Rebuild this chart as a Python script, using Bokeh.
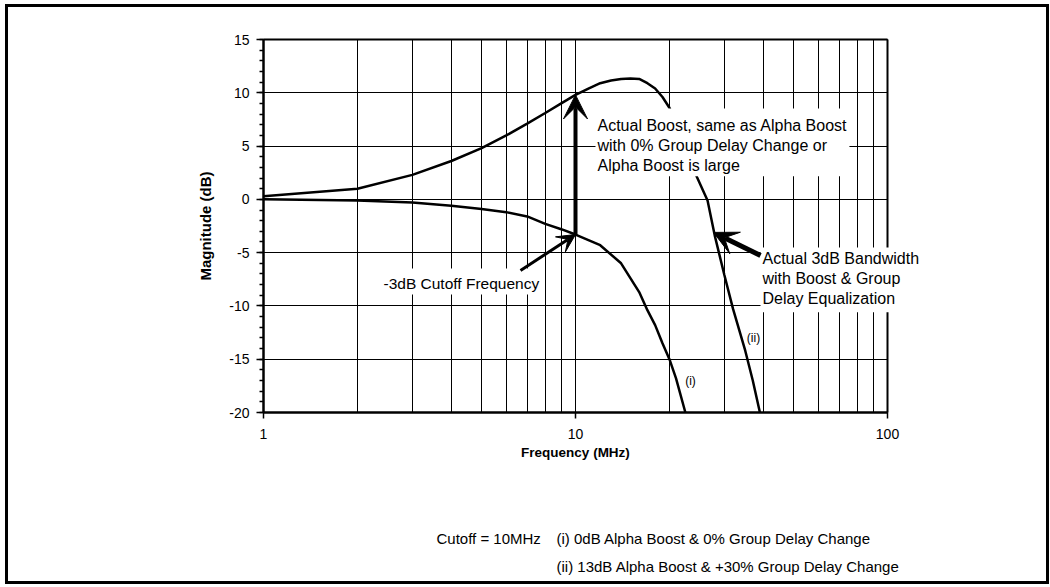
from bokeh.plotting import figure
from bokeh.models import Arrow, VeeHead, Label, FixedTicker, BasicTickFormatter, Grid
from bokeh.embed import file_html
from bokeh.resources import INLINE

# ---- data ----
# curve (i): 0dB Alpha Boost & 0% Group Delay Change
freq_i = [1, 2, 3, 4, 5, 6, 7, 8, 9, 10, 12, 14, 16, 17, 18, 19, 20, 21, 22.5]
mag_i = [0.0, -0.1, -0.3, -0.6, -0.9, -1.2, -1.6, -2.3, -2.8, -3.3, -4.3, -6.0,
         -8.7, -10.4, -11.8, -13.5, -15.0, -16.8, -20.0]
# curve (ii): 13dB Alpha Boost & +30% Group Delay Change
freq_ii = [1, 2, 3, 4, 5, 6, 7, 8, 9, 10, 11, 12, 13, 14, 15, 16, 17, 18, 19, 20,
           22, 24.5, 26.5, 28, 30, 32, 35, 37, 39]
mag_ii = [0.3, 1.0, 2.3, 3.6, 4.8, 6.0, 7.1, 8.1, 9.0, 9.8, 10.4, 10.9, 11.15, 11.3,
          11.35, 11.3, 10.9, 10.4, 9.6, 8.6, 5.8, 2.1, -0.1, -3.5, -7.1, -10.3,
          -14.2, -17.0, -20.0]

x_ticks = [1, 10, 100]
x_tick_labels = ["1", "10", "100"]
x_minor = [2, 3, 4, 5, 6, 7, 8, 9, 20, 30, 40, 50, 60, 70, 80, 90]
y_ticks = [-20, -15, -10, -5, 0, 5, 10, 15]
y_tick_labels = ["-20", "-15", "-10", "-5", "0", "5", "10", "15"]
y_minor = list(range(-20, 16))
x_bounds = (1, 100)
y_bounds = (-20, 15)

cutoff_freq = 10
cutoff_mag = mag_i[freq_i.index(cutoff_freq)]
boost_mag = mag_ii[freq_ii.index(cutoff_freq)]
bw_freq, bw_mag = 27.7, -3.1

title_x = "Frequency (MHz)"
title_y = "Magnitude (dB)"
note_boost = "Actual Boost, same as Alpha Boost\nwith 0% Group Delay Change or\nAlpha Boost is large"
note_cutoff = "-3dB Cutoff Frequency"
note_bw = "Actual 3dB Bandwidth\nwith Boost & Group\nDelay Equalization"
legend_head = "Cutoff = 10MHz"
legend_i = "(i) 0dB Alpha Boost & 0% Group Delay Change"
legend_ii = "(ii) 13dB Alpha Boost & +30% Group Delay Change"

FONT = "Liberation Sans"

# ---- layout (page pixels of the reference) ----
OX, OY = 8, 7                 # figure offset on the page
FIG_W, FIG_H = 1038, 574
X1_PX, X100_PX = 263, 887     # f = 1 and f = 100
Y15_PX, YM20_PX = 39, 412     # +15 dB and -20 dB
FRAME_LEFT_PX, FRAME_RIGHT_PX = 150, 1000
FRAME_TOP_PX, FRAME_BOTTOM_PX = 20, 578
DEC_PX = (X100_PX - X1_PX) / 2
DB_PX = (YM20_PX - Y15_PX) / 35.0


def fx(px):
    return 10 ** ((px - X1_PX) / DEC_PX)


def fy(py):
    return 15 - (py - Y15_PX) / DB_PX


p = figure(width=FIG_W, height=FIG_H, x_axis_type="log",
           x_range=(fx(FRAME_LEFT_PX), fx(FRAME_RIGHT_PX)),
           y_range=(fy(FRAME_BOTTOM_PX), fy(FRAME_TOP_PX)),
           output_backend="svg", toolbar_location=None,
           min_border_left=FRAME_LEFT_PX - OX,
           min_border_right=OX + FIG_W - FRAME_RIGHT_PX,
           min_border_top=FRAME_TOP_PX - OY,
           min_border_bottom=OY + FIG_H - FRAME_BOTTOM_PX)
p.styles = {"margin": f"{OY}px 0px 0px {OX}px", "outline": "3px solid black"}
p.background_fill_color = "white"
p.border_fill_color = "white"
p.outline_line_color = None

# axes, pinned to the corner of the plotting box
p.xaxis.ticker = FixedTicker(ticks=x_ticks, minor_ticks=x_minor)
p.xaxis.formatter = BasicTickFormatter()
p.xaxis.major_label_overrides = dict(zip(x_ticks, x_tick_labels))
p.xaxis.fixed_location = y_bounds[0]
p.xaxis.bounds = x_bounds
p.yaxis.ticker = FixedTicker(ticks=y_ticks, minor_ticks=y_minor)
p.yaxis.major_label_overrides = dict(zip(y_ticks, y_tick_labels))
p.yaxis.fixed_location = x_bounds[0]
p.yaxis.bounds = y_bounds
for ax in (p.xaxis[0], p.yaxis[0]):
    ax.axis_line_color = "black"
    ax.axis_line_width = 2.5
    ax.major_tick_line_color = "black"
    ax.major_tick_line_width = 1.5
    ax.major_tick_in = 0
    ax.major_label_text_font = FONT
    ax.major_label_text_font_size = "14px"
    ax.major_label_text_color = "black"
    ax.axis_label_text_font = FONT
    ax.axis_label_text_font_style = "bold"
    ax.axis_label_text_color = "black"
p.xaxis.major_tick_out = 6
p.xaxis.major_label_standoff = 10
p.xaxis.minor_tick_line_color = None
p.xaxis.axis_label = title_x
p.xaxis.axis_label_text_font_size = "13.5px"
p.xaxis.axis_label_standoff = 3
p.yaxis.major_tick_out = 7
p.yaxis.major_label_standoff = 7
p.yaxis.minor_tick_out = 4
p.yaxis.minor_tick_in = 0
p.yaxis.minor_tick_line_color = "black"
p.yaxis.minor_tick_line_width = 1.5
p.yaxis.axis_label = title_y
p.yaxis.axis_label_text_font_size = "15px"
p.yaxis.axis_label_standoff = 12

# grid, limited to the plotting box
p.xgrid.grid_line_color = "black"
p.xgrid.grid_line_width = 1
p.xgrid.minor_grid_line_color = "black"
p.xgrid.minor_grid_line_width = 1
p.xgrid.cross_bounds = y_bounds
p.ygrid.grid_line_color = "black"
p.ygrid.grid_line_width = 1
p.ygrid.cross_bounds = x_bounds
# heavier top and right edges of the plotting box
p.add_layout(Grid(dimension=1, ticker=FixedTicker(ticks=[y_bounds[1]]),
                  cross_bounds=x_bounds, grid_line_color="black", grid_line_width=2))
p.add_layout(Grid(dimension=0, ticker=FixedTicker(ticks=[x_bounds[1]]),
                  cross_bounds=y_bounds, grid_line_color="black", grid_line_width=2))

# curves
p.line(freq_i, mag_i, line_color="black", line_width=2.5)
p.line(freq_ii, mag_ii, line_color="black", line_width=2.5)

# text boxes (white background hides grid and curve); anchored at box corner
p.add_layout(Label(x=fx(595), y=fy(108), text=note_boost, text_font=FONT,
                   text_font_size="16px", text_align="left", text_baseline="top",
                   text_line_height=1.2, text_color="black",
                   background_fill_color="white",
                   padding=dict(left=2, right=2, top=8, bottom=2)))
p.add_layout(Label(x=fx(380), y=fy(268), text=note_cutoff, text_font=FONT,
                   text_font_size="15.5px", text_align="left",
                   text_baseline="top", text_color="black",
                   background_fill_color="white",
                   padding=dict(left=3, right=3, top=6, bottom=3)))
p.add_layout(Label(x=fx(760), y=fy(247), text=note_bw, text_font=FONT,
                   text_font_size="16px", text_align="left", text_baseline="top",
                   text_line_height=1.2, text_color="black",
                   background_fill_color="white",
                   padding=dict(left=2, right=2, top=2, bottom=5)))

# arrows
p.add_layout(Arrow(x_start=cutoff_freq, y_start=cutoff_mag, x_end=cutoff_freq,
                   y_end=boost_mag, line_width=4, line_color="black",
                   end=VeeHead(size=24, fill_color="black", line_color="black")))
p.add_layout(Arrow(x_start=fx(520), y_start=fy(270), x_end=cutoff_freq, y_end=cutoff_mag,
                   line_width=3, line_color="black",
                   end=VeeHead(size=18, fill_color="black", line_color="black")))
p.add_layout(Arrow(x_start=fx(760), y_start=fy(255), x_end=bw_freq, y_end=bw_mag,
                   line_width=5, line_color="black",
                   end=VeeHead(size=24, fill_color="black", line_color="black")))

# curve tags
p.add_layout(Label(x=fx(690), y=fy(380), text="(i)", text_font=FONT,
                   text_font_size="12px", text_align="center", text_baseline="middle",
                   text_color="black"))
p.add_layout(Label(x=fx(753), y=fy(337), text="(ii)", text_font=FONT,
                   text_font_size="12px", text_align="center", text_baseline="middle",
                   text_color="black"))

# legend notes below the chart
for lx, ly, txt in [(436, 538, legend_head), (556, 538, legend_i),
                    (556, 566, legend_ii)]:
    p.add_layout(Label(x=fx(lx), y=fy(ly), text=txt, text_font=FONT,
                       text_font_size="15px", text_align="left",
                       text_baseline="alphabetic", text_color="black"))

open("out.html", "w").write(file_html(p, INLINE))
